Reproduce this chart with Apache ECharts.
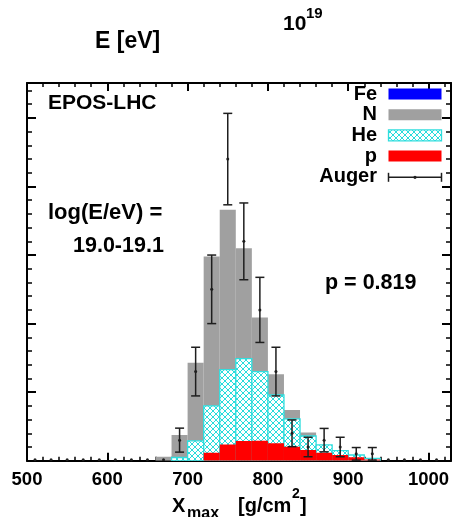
<!doctype html>
<html>
<head>
<meta charset="UTF-8">
<title>Xmax EPOS-LHC 19.0-19.1</title>
<script src="https://cdn.jsdelivr.net/npm/echarts@6/dist/echarts.min.js"></script>
<style>
    html, body { margin: 0; padding: 0; background: #fff; }
    #main { width: 454px; height: 517px; }
</style>
</head>
<body>
<div id="main"></div>
<script>
    // histogram bins, 20 g/cm2 wide (lower edges)
    var binLo = [660, 680, 700, 720, 740, 760, 780, 800, 820, 840, 860, 880, 900, 920];
    var pCnt  = [0, 0, 0, 1.17, 2.36, 2.88, 2.92, 2.54, 2.04, 1.56, 1.17, 0.83, 0.50, 0.18];
    var heCnt = [0, 0.47, 2.9, 6.83, 10.94, 12.02, 10.08, 7.06, 4.06, 2.04, 1.13, 0.63, 0.33, 0.17];
    var nCnt  = [0.58, 3.28, 11.4, 21.8, 23.3, 16.1, 7.9, 3.0, 1.3, 0.5, 0, 0, 0, 0];
    var feCnt = [0, 0, 0, 0, 0, 0, 0, 0, 0, 0, 0, 0, 0, 0];
    var binW = 20;

    // Auger data points (bin centres)
    var augerX   = [510, 530, 550, 570, 590, 610, 630, 650, 670, 690, 710, 730, 750, 770, 790, 810, 830, 850, 870, 890, 910, 930, 950, 970, 990, 1010];
    var augerN   = [0, 0, 0, 0, 0, 0, 0, 0, 0, 3, 13, 25, 44, 32, 22, 13, 4, 2, 3, 2, 1, 1, 0, 0, 0, 0];
    var augerErr = [0, 0, 0, 0, 0, 0, 0, 0, 0, 1.75, 3.55, 5.0, 6.67, 5.6, 4.75, 3.55, 1.95, 1.42, 1.71, 1.42, 0.92, 0.92, 0, 0, 0, 0];

    var xTicks = [500, 600, 700, 800, 900, 1000];

    var FF = '"Liberation Sans", Arial, sans-serif';
    function font(sz) { return 'bold ' + sz + 'px ' + FF; }

    // cross hatch for He (crisp 1px diagonals)
    var T = 6;
    var hatch = document.createElement('canvas');
    hatch.width = T; hatch.height = T;
    var g = hatch.getContext('2d');
    g.fillStyle = '#fff';
    g.fillRect(0, 0, T, T);
    g.fillStyle = '#28dcdc';
    for (var q = 0; q < T; q++) {
        g.fillRect(q, q, 1, 1);
        g.fillRect(T - 1 - q, q, 1, 1);
    }
    var hatchFill = {image: hatch, repeat: 'repeat'};

    // cumulative tops: p, p+He, p+He+N, p+He+N+Fe
    var topP = [], topHe = [], topN = [], topFe = [];
    for (var i = 0; i < binLo.length; i++) {
        topP.push(pCnt[i]);
        topHe.push(pCnt[i] + heCnt[i]);
        topN.push(pCnt[i] + heCnt[i] + nCnt[i]);
        topFe.push(pCnt[i] + heCnt[i] + nCnt[i] + feCnt[i]);
    }
    function binData(tops, own) {
        return binLo.map(function (x, i) { return [x, x + binW, tops[i], own[i]]; });
    }

    function histSeries(name, tops, own, style, z) {
        return {
            name: name,
            type: 'custom',
            z: z,
            clip: true,
            encode: {x: [0, 1], y: 2},
            data: binData(tops, own),
            renderItem: function (params, api) {
                var h = api.value(2);
                if (h <= 0 || api.value(3) <= 0) return null;
                var a = api.coord([api.value(0), h]);
                var b = api.coord([api.value(1), 0]);
                return {
                    type: 'rect',
                    shape: {x: a[0], y: a[1], width: b[0] - a[0], height: b[1] - a[1]},
                    style: style
                };
            }
        };
    }

    var augerData = augerX.map(function (x, i) { return [x, augerN[i], augerErr[i]]; });

    var ink = '#1e1e1e';
    var axisMajorX = {inside: true, length: 8, lineStyle: {color: '#000', width: 2}};
    var axisMinorX = {inside: true, length: 4, lineStyle: {color: '#000', width: 1.5}};
    var axisMajorY = {inside: true, length: 9, lineStyle: {color: '#000', width: 2}};
    var axisMinorY = {inside: true, length: 5, lineStyle: {color: '#000', width: 1.5}};

    function xAx(pos, interval, tick, line, label) {
        return {
            type: 'value', position: pos, min: 500, max: 1028, interval: interval,
            axisLine: {show: line, onZero: false, lineStyle: {color: '#000', width: 2}},
            axisTick: tick,
            axisLabel: label ? {
                show: true, margin: 10, color: '#000', fontSize: 18.5, fontWeight: 'bold', fontFamily: FF,
                formatter: function (v) { return xTicks.indexOf(v) >= 0 ? String(v) : ''; }
            } : {show: false},
            splitLine: {show: false}
        };
    }
    function yAx(pos, interval, tick, line) {
        return {
            type: 'value', position: pos, min: 0, max: 55.1, interval: interval,
            axisLine: {show: line, onZero: false, lineStyle: {color: '#000', width: 2}},
            axisTick: tick,
            axisLabel: {show: false},
            splitLine: {show: false}
        };
    }

    var legendY = [94, 114.7, 135.4, 156.1, 176.8];
    var legendTxt = ['Fe', 'N', 'He', 'p', 'Auger'];
    var graphics = [];
    function txt(s, x, y, sz, align) {
        graphics.push({
            type: 'text', x: x, y: y, z: 100,
            style: {text: s, font: font(sz), fill: '#000',
                textAlign: align || 'left', align: align || 'left',
                textVerticalAlign: 'middle', verticalAlign: 'middle'}
        });
    }
    txt('E [eV]', 95, 42, 23);
    txt('10', 283, 24, 21);
    txt('19', 306, 14, 15);
    txt('EPOS-LHC', 48, 103.5, 21);
    txt('log(E/eV) =', 48, 213, 22);
    txt('19.0-19.1', 73, 246.5, 21.5);
    txt('p = 0.819', 325, 283.5, 21.5);
    for (var k = 0; k < legendTxt.length; k++) txt(legendTxt[k], 377, legendY[k], 20, 'right');

    var legFill = ['#0000ff', '#a0a0a0', hatchFill, '#ff0000'];
    for (var m = 0; m < 4; m++) {
        graphics.push({
            type: 'rect', z: 100,
            shape: {x: 388.5, y: legendY[m] - 5.5, width: 53, height: 11},
            style: m === 2 ? {fill: hatchFill, stroke: '#30dede', lineWidth: 1.3} : {fill: legFill[m]}
        });
    }
    var ly = legendY[4] + 0.5;
    [[388.5, ly, 441.5, ly], [388.5, ly - 4.5, 388.5, ly + 4.5], [441.5, ly - 4.5, 441.5, ly + 4.5]].forEach(function (s) {
        graphics.push({type: 'line', z: 100, shape: {x1: s[0], y1: s[1], x2: s[2], y2: s[3]}, style: {stroke: ink, lineWidth: 1.5}});
    });
    graphics.push({type: 'circle', z: 100, shape: {cx: 415, cy: ly, r: 1.6}, style: {fill: ink}});

    // x axis title
    txt('X', 172, 506, 20);
    txt('max', 187, 514, 16);
    txt('[g/cm', 238, 506, 20);
    txt('2', 292, 494, 14);
    txt(']', 300, 506, 20);

    var myChart = echarts.init(document.getElementById('main'), null, {renderer: 'canvas'});
    var option = {
        animation: false,
        backgroundColor: '#fff',
        grid: {left: 27, top: 83, width: 429, height: 377.7},
        xAxis: [
            xAx('bottom', 100, axisMajorX, true, true),
            xAx('bottom', 20, axisMinorX, false, false),
            xAx('top', 100, axisMajorX, true, false),
            xAx('top', 20, axisMinorX, false, false)
        ],
        yAxis: [
            yAx('left', 10, axisMajorY, true),
            yAx('left', 2, axisMinorY, false),
            yAx('right', 10, axisMajorY, true),
            yAx('right', 2, axisMinorY, false)
        ],
        series: [
            histSeries('Fe', topFe, feCnt, {fill: '#0000ff'}, 2),
            histSeries('N', topN, nCnt, {fill: '#a0a0a0'}, 3),
            histSeries('He', topHe, heCnt, {fill: hatchFill, stroke: '#30dede', lineWidth: 1.3}, 4),
            histSeries('p', topP, pCnt, {fill: '#ff0000'}, 5),
            {
                name: 'Auger',
                type: 'custom',
                z: 6,
                encode: {x: 0, y: 1},
                data: augerData,
                renderItem: function (params, api) {
                    var x = api.value(0), y = api.value(1), e = api.value(2);
                    var c = api.coord([x, y]);
                    var kids = [{type: 'circle', shape: {cx: c[0], cy: c[1] - (y === 0 ? 1 : 0), r: 1.5}, style: {fill: ink}}];
                    if (e > 0) {
                        var t = api.coord([x, y + e]), b = api.coord([x, y - e]);
                        var st = {stroke: ink, lineWidth: 1.5};
                        kids.push({type: 'line', shape: {x1: c[0], y1: t[1], x2: c[0], y2: b[1]}, style: st});
                        kids.push({type: 'line', shape: {x1: c[0] - 4.5, y1: t[1], x2: c[0] + 4.5, y2: t[1]}, style: st});
                        kids.push({type: 'line', shape: {x1: c[0] - 4.5, y1: b[1], x2: c[0] + 4.5, y2: b[1]}, style: st});
                    }
                    return {type: 'group', children: kids};
                }
            }
        ],
        graphic: graphics
    };
    myChart.setOption(option);
</script>
</body>
</html>
